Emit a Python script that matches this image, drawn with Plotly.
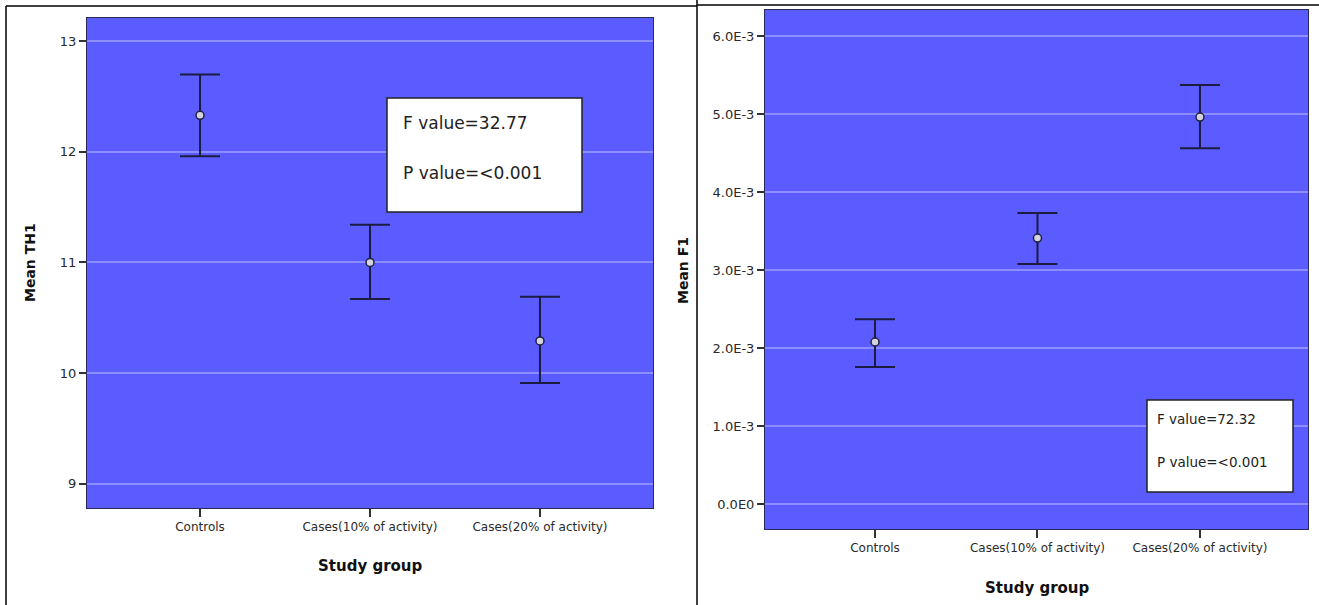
import plotly.graph_objects as go

W, H = 1319, 605
OFF = 0

categories = ["Controls", "Cases(10% of activity)", "Cases(20% of activity)"]

# Left panel: Mean TH1
th1_mean = [12.33, 11.00, 10.29]
th1_upper = [12.70, 11.34, 10.69]
th1_lower = [11.96, 10.67, 9.91]
th1_ticks = [9, 10, 11, 12, 13]
th1_ticktext = ["9", "10", "11", "12", "13"]

# Right panel: Mean F1
f1_mean = [2.077e-3, 3.41e-3, 4.96e-3]
f1_upper = [2.37e-3, 3.73e-3, 5.37e-3]
f1_lower = [1.756e-3, 3.077e-3, 4.56e-3]
f1_ticks = [0.0, 1.0e-3, 2.0e-3, 3.0e-3, 4.0e-3, 5.0e-3, 6.0e-3]
f1_ticktext = ["0.0E0", "1.0E-3", "2.0E-3", "3.0E-3", "4.0E-3", "5.0E-3", "6.0E-3"]

left_stats = ["F value=32.77", "P value=<0.001"]
right_stats = ["F value=72.32", "P value=<0.001"]

PLOT_BG = "#5a5cff"
GRID = "#8c8eff"
BAR = "#1c1c40"

def px(x):
    return (x - OFF) / W

def py(y):
    return 1 - (y - OFF) / H

fig = go.Figure()

fig.add_trace(go.Scatter(
    x=categories, y=th1_mean, mode="markers",
    marker=dict(size=8, color="#d4d4e0", line=dict(color="#20203c", width=1.5)),
    error_y=dict(type="data", symmetric=False,
                 array=[u - m for u, m in zip(th1_upper, th1_mean)],
                 arrayminus=[m - l for m, l in zip(th1_mean, th1_lower)],
                 width=20, thickness=2, color=BAR),
    xaxis="x", yaxis="y", showlegend=False, hoverinfo="skip"))

fig.add_trace(go.Scatter(
    x=categories, y=f1_mean, mode="markers",
    marker=dict(size=8, color="#d4d4e0", line=dict(color="#20203c", width=1.5)),
    error_y=dict(type="data", symmetric=False,
                 array=[u - m for u, m in zip(f1_upper, f1_mean)],
                 arrayminus=[m - l for m, l in zip(f1_mean, f1_lower)],
                 width=20, thickness=2, color=BAR),
    xaxis="x2", yaxis="y2", showlegend=False, hoverinfo="skip"))

tickfont = dict(family="DejaVu Sans", size=13, color="#2a2a2a")
xtickfont = dict(family="DejaVu Sans", size=12, color="#2a2a2a")

common_x = dict(type="category", showgrid=False, zeroline=False,
                ticks="outside", ticklen=8, tickwidth=2, tickcolor="#333333",
                showline=True, linecolor="#2a2a5a", linewidth=1, mirror=True,
                tickfont=xtickfont)
common_y = dict(showgrid=True, gridcolor=GRID, gridwidth=1.5, zeroline=False,
                ticks="outside", ticklen=7, tickwidth=2, tickcolor="#333333",
                showline=True, linecolor="#2a2a5a", linewidth=1, mirror=True,
                tickfont=tickfont)

fig.update_layout(
    width=W, height=H,
    margin=dict(l=0, r=0, t=0, b=0),
    paper_bgcolor="white",
    plot_bgcolor=PLOT_BG,
    xaxis=dict(domain=[px(87), px(653)], range=[-0.665, 2.665], anchor="y", **common_x),
    yaxis=dict(domain=[py(508), py(18)], range=[8.78, 13.21], anchor="x",
               tickvals=th1_ticks, ticktext=th1_ticktext, **common_y),
    xaxis2=dict(domain=[px(765), px(1308)], range=[-0.677, 2.665], anchor="y2", **common_x),
    yaxis2=dict(domain=[py(529), py(10)], range=[-0.32e-3, 6.333e-3], anchor="x2",
                tickvals=f1_ticks, ticktext=f1_ticktext, **common_y),
)

shapes = []
# panel borders
shapes.append(dict(type="line", xref="paper", yref="paper", x0=px(6), x1=px(697), y0=py(6), y1=py(6), line=dict(color="black", width=1.5)))
shapes.append(dict(type="line", xref="paper", yref="paper", x0=px(6), x1=px(6), y0=py(6), y1=0, line=dict(color="black", width=1.5)))
shapes.append(dict(type="line", xref="paper", yref="paper", x0=px(697), x1=px(697), y0=1, y1=0, line=dict(color="black", width=1.5)))
shapes.append(dict(type="line", xref="paper", yref="paper", x0=px(697), x1=1, y0=py(5), y1=py(5), line=dict(color="black", width=1.5)))
# stats boxes
shapes.append(dict(type="rect", xref="paper", yref="paper", x0=px(387), x1=px(582), y0=py(212), y1=py(98),
                   fillcolor="white", line=dict(color="#222222", width=1.5)))
shapes.append(dict(type="rect", xref="paper", yref="paper", x0=px(1147), x1=px(1293), y0=py(492), y1=py(400),
                   fillcolor="white", line=dict(color="#222222", width=1.5)))
fig.update_layout(shapes=shapes)

ann = []
boxfont_l = dict(family="DejaVu Sans", size=17, color="#222222")
boxfont_r = dict(family="DejaVu Sans", size=13.5, color="#222222")
ann.append(dict(text=left_stats[0], xref="paper", yref="paper", x=px(401), y=py(123), xanchor="left", yanchor="middle", showarrow=False, font=boxfont_l))
ann.append(dict(text=left_stats[1], xref="paper", yref="paper", x=px(401), y=py(173), xanchor="left", yanchor="middle", showarrow=False, font=boxfont_l))
ann.append(dict(text=right_stats[0], xref="paper", yref="paper", x=px(1155), y=py(419), xanchor="left", yanchor="middle", showarrow=False, font=boxfont_r))
ann.append(dict(text=right_stats[1], xref="paper", yref="paper", x=px(1155), y=py(462), xanchor="left", yanchor="middle", showarrow=False, font=boxfont_r))
# axis titles
titlefont = dict(family="DejaVu Sans", size=15, color="#111111")
ann.append(dict(text="<b>Study group</b>", xref="paper", yref="paper", x=px(370), y=py(566), xanchor="center", yanchor="middle", showarrow=False, font=titlefont))
ann.append(dict(text="<b>Study group</b>", xref="paper", yref="paper", x=px(1037), y=py(588), xanchor="center", yanchor="middle", showarrow=False, font=titlefont))
ann.append(dict(text="<b>Mean TH1</b>", xref="paper", yref="paper", x=px(30), y=py(263), xanchor="center", yanchor="middle", textangle=-90, showarrow=False, font=dict(family="DejaVu Sans", size=14, color="#111111")))
ann.append(dict(text="<b>Mean F1</b>", xref="paper", yref="paper", x=px(683), y=py(270), xanchor="center", yanchor="middle", textangle=-90, showarrow=False, font=dict(family="DejaVu Sans", size=14, color="#111111")))
fig.update_layout(annotations=ann)

fig.write_html("out.html", config={"displayModeBar": False},
               post_script="document.body.style.margin='0px';")
